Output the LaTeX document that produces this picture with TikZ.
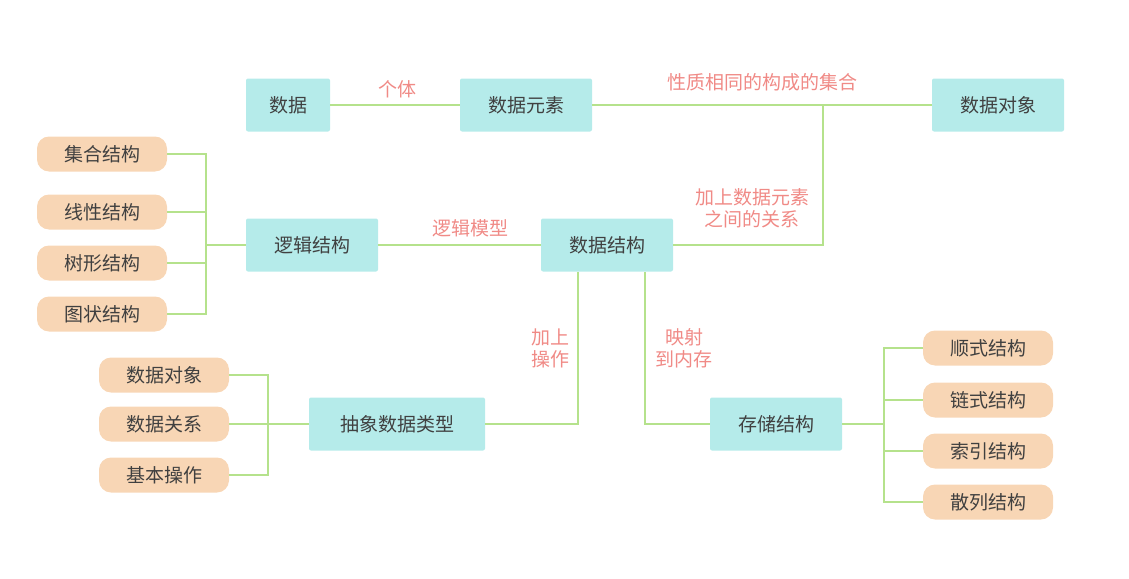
\documentclass[tikz,border=0pt]{standalone}
\usepackage{fontspec}
\setmainfont{Noto Sans CJK SC}
\definecolor{teal}{HTML}{B5EBEA}
\definecolor{pill}{HTML}{F8D6B5}
\definecolor{gline}{HTML}{B5E28C}
\definecolor{lbl}{HTML}{F08A86}
\definecolor{txt}{HTML}{404040}
\begin{document}
\begin{tikzpicture}[x=1pt,y=-1pt,
 box/.style={fill=teal,rounded corners=2pt,minimum width=132pt,minimum height=53pt,inner sep=0pt,text=txt,font=\fontsize{19}{22}\selectfont},
 pl/.style={fill=pill,rounded corners=12pt,minimum width=130pt,minimum height=35pt,inner sep=0pt,text=txt,font=\fontsize{19}{22}\selectfont},
 ln/.style={draw=gline,line width=1.6pt},
 lb/.style={text=lbl,font=\fontsize{19}{22}\selectfont,align=center,inner sep=1pt}]
\useasboundingbox (0,0) rectangle (1129,578);
\node[box,minimum width=84pt] (sj) at (288,105) {数据};
\node[box] (sjys) at (526,105) {数据元素};
\node[box] (sjdx) at (998,105) {数据对象};
\node[box] (ljjg) at (312,245) {逻辑结构};
\node[box] (sjjg) at (607,245) {数据结构};
\node[box,minimum width=176pt] (cx) at (397,424) {抽象数据类型};
\node[box] (ccjg) at (776,424) {存储结构};
\node[pl] (p1) at (102,154) {集合结构};
\node[pl] (p2) at (102,212) {线性结构};
\node[pl] (p3) at (102,263) {树形结构};
\node[pl] (p4) at (102,314) {图状结构};
\node[pl] (q1) at (164,375) {数据对象};
\node[pl] (q2) at (164,424) {数据关系};
\node[pl] (q3) at (164,475) {基本操作};
\node[pl] (r1) at (988,348) {顺式结构};
\node[pl] (r2) at (988,400) {链式结构};
\node[pl] (r3) at (988,451) {索引结构};
\node[pl] (r4) at (988,502) {散列结构};
\draw[ln] (sj) -- (sjys);
\draw[ln] (sjys) -- (sjdx);
\draw[ln] (ljjg) -- (sjjg);
\draw[ln] (sjjg.east) -- (823,245) -- (823,105);
\draw[ln] (578,272) -- (578,424) -- (cx.east);
\draw[ln] (645,272) -- (645,424) -- (ccjg.west);
\coordinate (b1) at (206,245);
\draw[ln] (ljjg.west) -- (b1);
\foreach \n in {p1,p2,p3,p4} \draw[ln] (\n.east) -- (b1 |- \n.east) -- (b1);
\coordinate (b2) at (268,424);
\draw[ln] (cx.west) -- (b2);
\foreach \n in {q1,q2,q3} \draw[ln] (\n.east) -- (b2 |- \n.east) -- (b2);
\coordinate (b3) at (884,424);
\draw[ln] (ccjg.east) -- (b3);
\foreach \n in {r1,r2,r3,r4} \draw[ln] (\n.west) -- (b3 |- \n.west) -- (b3);
\node[lb] (l1) at (397,89) {个体};
\node[lb] (l2) at (762,82) {性质相同的构成的集合};
\node[lb] (l3) at (752,208) {加上数据元素\\之间的关系};
\node[lb] (l4) at (470,228) {逻辑模型};
\node[lb] (l5) at (550,348) {加上\\操作};
\node[lb] (l6) at (684,348) {映射\\到内存};
\end{tikzpicture}
\end{document}
